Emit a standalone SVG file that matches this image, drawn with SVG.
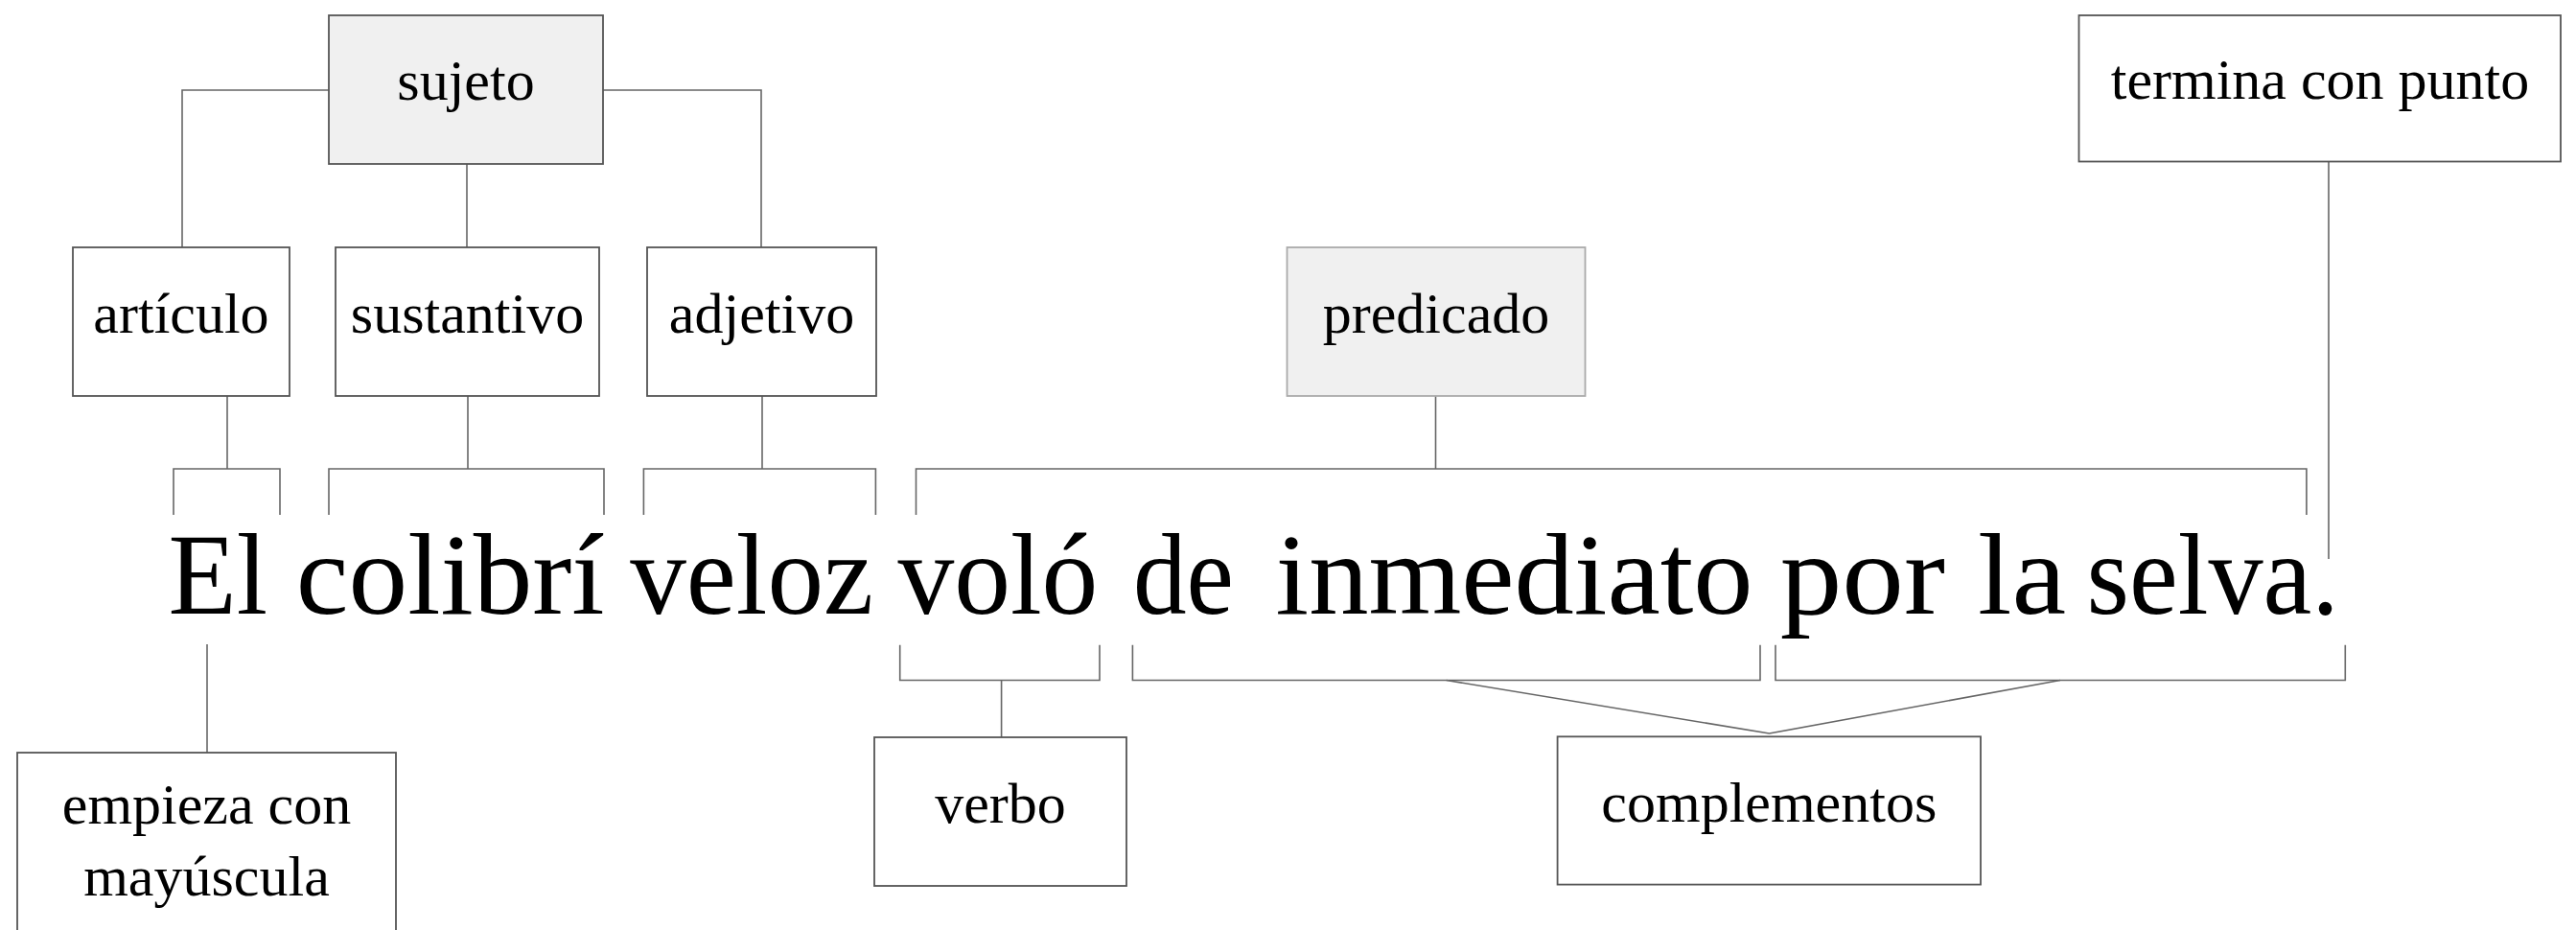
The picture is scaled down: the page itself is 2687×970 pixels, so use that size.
<svg xmlns="http://www.w3.org/2000/svg" width="2687" height="970" viewBox="0 0 2687 970">
<style>
.box{fill:#ffffff;stroke:#555555;stroke-width:1.8}
.hl{fill:#f0f0f0;stroke:#555555;stroke-width:1.8}
.hl2{fill:#f0f0f0;stroke:#aaaaaa;stroke-width:1.8}
.lbl{font-family:"Liberation Serif","Times New Roman",serif;font-size:60px;fill:#000;text-anchor:middle}
.sent{font-family:"Liberation Serif","Times New Roman",serif;font-size:120px;fill:#000}
.conn path{fill:none;stroke:#666666;stroke-width:1.6}
</style>
<rect width="2687" height="970" fill="#ffffff"/>
<g id="connectors" class="conn">
<path d="M343,94 H190 V258"/>
<path d="M629,94 H794 V258"/>
<path d="M487,171 V258"/>
<path d="M237,413 V489"/>
<path d="M488,413 V489"/>
<path d="M795,413 V489"/>
<path d="M1497.5,413 V489"/>
<path d="M181,537 V489 H292 V537"/>
<path d="M343,537 V489 H630 V537"/>
<path d="M671.4,537 V489 H913.4 V537"/>
<path d="M955.5,537 V489 H2405.9 V537"/>
<path d="M2429,168.5 V583"/>
<path d="M216,672 V785"/>
<path d="M938.7,672.7 V709.5 H1147 V672.7"/>
<path d="M1044.6,709.5 V769"/>
<path d="M1181.4,672.7 V709.5 H1836 V672.7"/>
<path d="M1852,672.7 V709.5 H2446.3 V672.7"/>
<path d="M1508.7,709.5 L1845.5,765 L2149,709.5"/>
</g>
<g id="sujeto"><rect class="hl" x="343" y="16" width="286" height="155"/><text class="lbl" x="486" y="104">sujeto</text></g>
<g id="articulo"><rect class="box" x="76" y="258" width="226" height="155"/><text class="lbl" x="189" y="346.7">artículo</text></g>
<g id="sustantivo"><rect class="box" x="350" y="258" width="275" height="155"/><text class="lbl" x="487.5" y="346.7">sustantivo</text></g>
<g id="adjetivo"><rect class="box" x="675" y="258" width="239" height="155"/><text class="lbl" x="794.5" y="346.7">adjetivo</text></g>
<g id="predicado"><rect class="hl2" x="1342.5" y="258" width="311" height="155"/><text class="lbl" x="1498" y="346.7">predicado</text></g>
<g id="termina"><rect class="box" x="2168.5" y="16" width="502.5" height="152.5"/><text class="lbl" x="2420" y="102.7">termina con punto</text></g>
<g id="empieza"><rect class="box" x="18" y="785" width="395" height="200"/><text class="lbl" x="215.5" y="859">empieza con</text><text class="lbl" x="215.5" y="933.8">mayúscula</text></g>
<g id="verbo"><rect class="box" x="912" y="769" width="263" height="155"/><text class="lbl" x="1043.5" y="858.4">verbo</text></g>
<g id="complementos"><rect class="box" x="1624.6" y="768.3" width="441.4" height="154.3"/><text class="lbl" x="1845.3" y="856.7">complementos</text></g>
<g id="oracion" class="sent">
<text x="175.5" y="640" textLength="103.5" lengthAdjust="spacingAndGlyphs">El</text>
<text x="308.8" y="640" textLength="321.8" lengthAdjust="spacingAndGlyphs">colibrí</text>
<text x="657.3" y="640" textLength="253.7" lengthAdjust="spacingAndGlyphs">veloz</text>
<text x="936.4" y="640" textLength="209" lengthAdjust="spacingAndGlyphs">voló</text>
<text x="1182" y="640" textLength="105" lengthAdjust="spacingAndGlyphs">de</text>
<text x="1330.6" y="640" textLength="498" lengthAdjust="spacingAndGlyphs">inmediato</text>
<text x="1856.7" y="640" textLength="172.3" lengthAdjust="spacingAndGlyphs">por</text>
<text x="2063" y="640" textLength="92" lengthAdjust="spacingAndGlyphs">la</text>
<text x="2176.6" y="640" textLength="263.2" lengthAdjust="spacingAndGlyphs">selva.</text>
</g>
</svg>
